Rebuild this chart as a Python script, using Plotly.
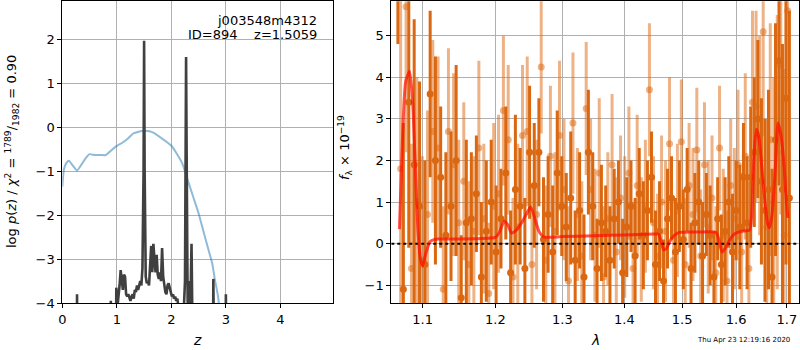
import numpy as np
import plotly.graph_objects as go

# ---------------- Left panel: redshift PDF ----------------
pz_z = [0.0, 0.03, 0.07, 0.12, 0.18, 0.27, 0.35, 0.43, 0.5, 0.6, 0.7, 0.8, 0.9, 1.0, 1.1,
        1.2, 1.3, 1.4, 1.5, 1.6, 1.7, 1.8, 1.9, 2.0, 2.1, 2.2, 2.3, 2.4, 2.5, 2.6, 2.7,
        2.75, 2.8, 2.85, 2.9]
pz_logp = [-1.35, -0.95, -0.82, -0.76, -0.85, -0.98, -0.85, -0.7, -0.61, -0.63, -0.63, -0.63,
           -0.52, -0.42, -0.35, -0.26, -0.14, -0.1, -0.08, -0.09, -0.14, -0.23, -0.32, -0.42,
           -0.6, -0.82, -1.2, -1.58, -1.96, -2.42, -2.87, -3.1, -3.48, -3.8, -4.3]

chi_z = [0.0, 0.26, 0.27, 0.28, 0.88, 0.89, 0.90, 0.98, 0.99, 1.0, 1.01, 1.03, 1.05, 1.07, 1.09,
         1.11, 1.13, 1.15, 1.17, 1.19, 1.21, 1.23, 1.25, 1.27, 1.29, 1.31, 1.33, 1.35, 1.37,
         1.39, 1.41, 1.43, 1.45, 1.47, 1.49, 1.5, 1.51, 1.53, 1.55, 1.57, 1.59, 1.61, 1.63,
         1.65, 1.67, 1.69, 1.71, 1.73, 1.75, 1.77, 1.79, 1.81, 1.83, 1.85, 1.87, 1.89, 1.91,
         1.93, 1.95, 1.97, 1.99, 2.01, 2.03, 2.05, 2.07, 2.09, 2.11, 2.13, 2.15, 2.17, 2.2,
         2.25, 2.26, 2.27, 2.28, 2.3, 2.32, 2.33, 2.34, 2.35, 2.36, 2.37, 2.38, 2.39, 2.4,
         2.76, 2.77, 2.78, 2.79, 2.99, 3.0, 3.01, 3.2]
chi_logp = [-6, -6, -3.8, -6, -6, -3.95, -6, -6, -3.65, -3.9, -4.1, -3.9, -3.6, -3.25, -3.55,
            -3.7, -3.35, -3.4, -3.8, -3.85, -3.8, -3.9, -3.95, -3.85, -3.8, -3.9, -3.7, -3.75,
            -3.6, -3.7, -3.55, -3.5, -3.6, -3.2, -1.0, 1.97, -1.0, -3.4, -3.55, -3.5, -3.6,
            -3.1, -2.7, -3.3, -2.65, -3.0, -3.3, -2.9, -3.35, -3.45, -3.3, -3.5, -2.75, -3.4,
            -3.6, -3.75, -3.8, -3.6, -3.55, -3.7, -3.75, -3.85, -3.8, -3.9, -3.85, -3.95, -3.9,
            -4.1, -4.5, -5, -5, -3.5, 0.5, 1.6, -0.5, -4.2, -3.5, -4.1, -3.7, -4.2, -3.3, -2.65,
            -3.8, -5, -6, -6, -3.45, -3.5, -6, -6, -3.8, -6, -6]

z_ticks = [0, 1, 2, 3, 4]
logp_ticks = [-4, -3, -2, -1, 0, 1, 2]

# ---------------- Right panel: spectrum ----------------
wave_a = [1.068, 1.075, 1.082, 1.089, 1.096, 1.103, 1.110, 1.117, 1.124, 1.131,
          1.138, 1.145, 1.152, 1.159, 1.166, 1.173, 1.180, 1.187, 1.194, 1.201,
          1.208, 1.215, 1.222, 1.229, 1.236, 1.243, 1.250, 1.257, 1.264, 1.271,
          1.278, 1.285, 1.292, 1.299, 1.306, 1.313, 1.320, 1.327, 1.334, 1.341,
          1.348, 1.355, 1.362, 1.369, 1.376, 1.383, 1.390, 1.397, 1.404, 1.411,
          1.418, 1.425, 1.432, 1.439, 1.446, 1.453, 1.460, 1.467, 1.474, 1.481,
          1.488, 1.495, 1.502, 1.509, 1.516, 1.523, 1.530, 1.537, 1.544, 1.551,
          1.558, 1.565, 1.572, 1.579, 1.586, 1.593, 1.600, 1.607, 1.614, 1.621,
          1.628, 1.635, 1.642, 1.649, 1.656, 1.663, 1.670, 1.677, 1.684, 1.691,
          1.698, 1.705]
flux_a = [7.0, -1.1, 3.4, 1.9, 0.9, -0.5, 3.6, 2.0, 1.6, 0.2,
          0.9, 2.0, -1.3, 0.5, 0.6, 1.2, -0.8, 0.3, 1.0, -0.2,
          0.6, 1.7, -0.7, 1.3, 0.9, -0.6, 2.2, 1.4, 2.2, 0.1,
          0.7, -0.2, 1.7, 0.9, 0.4, 1.1, -0.4, 0.8, -0.8, 2.2,
          0.9, -0.6, 0.5, 0.3, -0.4, 0.6, 1.0, -0.7, 0.4, 0.9,
          -0.3, 1.2, 0.2, 0.8, 1.6, -0.5, 0.3, -0.9, 0.6, 1.1,
          -0.2, 0.9, 0.1, 1.3, -0.6, 0.5, 1.0, -0.3, 0.7, 0.2,
          -0.8, 0.6, -0.5, 0.3, 1.0, -0.2, 0.8, 0.4, 1.6, 0.5,
          1.6, 2.2, 3.0, 1.5, 0.8, 1.3, -0.8, 2.5, 4.4, 1.3,
          3.5, 1.1]
err_a = [2.2, 4.0, 3.5, 3.5, 3.0, 2.5, 2.0, 2.5, 1.7, 2.0,
         1.8, 2.3, 1.5, 2.0, 1.6, 1.4, 1.8, 1.7, 1.5, 1.6,
         1.2, 1.6, 1.5, 1.8, 1.4, 1.7, 1.6, 1.5, 1.3, 1.5,
         1.4, 1.6, 1.5, 1.2, 1.3, 1.6, 1.2, 1.4, 1.5, 1.5,
         1.3, 1.2, 1.4, 1.1, 1.3, 1.2, 1.0, 1.3, 1.2, 1.1,
         1.4, 1.1, 1.3, 1.2, 1.1, 1.3, 1.2, 1.0, 1.2, 1.0,
         1.3, 1.1, 1.2, 1.0, 1.1, 1.2, 1.0, 1.3, 1.0, 1.2,
         1.1, 1.0, 1.2, 1.3, 1.1, 1.4, 1.2, 1.5, 1.3, 1.6,
         1.7, 1.8, 1.9, 2.0, 2.2, 2.4, 2.6, 2.8, 3.0, 3.5,
         4.0, 4.5]

wave_b = [1.0715, 1.0785, 1.0855, 1.0925, 1.0995, 1.1065, 1.1135, 1.1205, 1.1275, 1.1345,
          1.1415, 1.1485, 1.1555, 1.1625, 1.1695, 1.1765, 1.1835, 1.1905, 1.1975, 1.2045,
          1.2115, 1.2185, 1.2255, 1.2325, 1.2395, 1.2465, 1.2535, 1.2605, 1.2675, 1.2745,
          1.2815, 1.2885, 1.2955, 1.3025, 1.3095, 1.3165, 1.3235, 1.3305, 1.3375, 1.3445,
          1.3515, 1.3585, 1.3655, 1.3725, 1.3795, 1.3865, 1.3935, 1.4005, 1.4075, 1.4145,
          1.4215, 1.4285, 1.4355, 1.4425, 1.4495, 1.4565, 1.4635, 1.4705, 1.4775, 1.4845,
          1.4915, 1.4985, 1.5055, 1.5125, 1.5195, 1.5265, 1.5335, 1.5405, 1.5475, 1.5545,
          1.5615, 1.5685, 1.5755, 1.5825, 1.5895, 1.5965, 1.6035, 1.6105, 1.6175, 1.6245,
          1.6315, 1.6385, 1.6455, 1.6525, 1.6595, 1.6665, 1.6735, 1.6805, 1.6875, 1.6945,
          1.7015]
flux_b = [1.8, 5.7, -0.6, 1.0, -0.4, 0.7, 2.7, 2.3, -1.1, 2.7,
          1.9, 0.5, 1.5, -0.5, 0.3, 2.3, 0.6, -1.2, 0.9, 1.2,
          3.2, 2.5, -0.8, 0.4, 2.6, 2.7, -0.5, 0.7, 4.25, -0.4,
          2.1, 0.3, 2.6, 1.3, -0.9, 2.9, 0.7, -0.3, 3.25, 1.3,
          0.2, 1.7, -0.8, 0.6, 1.9, -0.2, 1.1, 0.4, 1.7, -0.6,
          1.4, 0.1, 0.9, 3.7, 0.5, -0.3, 1.0, 0.3, 2.4, -0.4,
          0.8, 2.45, -0.5, 1.4, 0.7, 2.25, -0.3, 1.9, 0.4, 1.1,
          -0.7, 2.3, 0.2, -0.9, 1.4, 0.6, 1.9, -0.2, 2.1, -0.6,
          3.4, 3.3, 2.6, 5.1, 0.4, 2.5, 1.0, 2.2, 4.3, 0.2,
          5.6]
err_b = [4.5, 3.5, 3.0, 3.0, 2.5, 2.5, 2.2, 2.2, 2.0, 2.0,
         2.2, 2.0, 1.9, 2.0, 1.8, 2.1, 1.8, 1.7, 2.0, 1.9,
         1.8, 1.8, 1.9, 2.0, 1.7, 1.8, 1.9, 1.8, 1.6, 1.8,
         1.7, 1.9, 1.8, 1.7, 1.8, 1.7, 1.6, 1.8, 1.6, 1.7,
         1.6, 1.8, 1.7, 1.6, 1.7, 1.8, 1.5, 1.7, 1.6, 1.6,
         1.7, 1.5, 1.6, 1.6, 1.6, 1.5, 1.6, 1.7, 1.6, 1.5,
         1.6, 1.5, 1.6, 1.5, 1.6, 1.5, 1.6, 1.5, 1.6, 1.5,
         1.6, 1.5, 1.6, 1.7, 1.6, 1.7, 1.8, 1.9, 2.0, 2.1,
         2.2, 2.3, 2.4, 2.5, 2.6, 2.8, 3.0, 3.3, 3.6, 4.0,
         4.5]

model_wave = [1.070, 1.074, 1.078, 1.083, 1.087, 1.091, 1.094, 1.097, 1.100, 1.104, 1.110,
              1.116, 1.121, 1.200, 1.205, 1.210, 1.213, 1.218, 1.223, 1.230, 1.238, 1.245,
              1.2515, 1.258, 1.264, 1.271, 1.300, 1.350, 1.400, 1.450, 1.458, 1.463, 1.467,
              1.472, 1.478, 1.486, 1.495, 1.530, 1.562, 1.567, 1.573, 1.579, 1.586, 1.594,
              1.602, 1.612, 1.626, 1.630, 1.634, 1.639, 1.644, 1.650, 1.656, 1.661, 1.665,
              1.670, 1.676, 1.682, 1.688, 1.694, 1.699, 1.702]
model_flux = [0.35, 2.6, 3.9, 4.15, 3.4, 1.6, 0.3, -0.35, -0.54, -0.25, 0.05,
              0.1, 0.11, 0.15, 0.25, 0.45, 0.54, 0.45, 0.26, 0.32, 0.5, 0.7,
              0.88, 0.6, 0.3, 0.16, 0.17, 0.19, 0.21, 0.23, 0.23, 0.05, -0.15,
              -0.12, 0.05, 0.2, 0.27, 0.28, 0.27, 0.1, -0.2, -0.12, 0.05, 0.2,
              0.27, 0.3, 0.33, 0.7, 2.0, 2.75, 2.55, 1.8, 1.0, 0.5, 0.38,
              0.7, 1.7, 2.9, 2.6, 1.9, 1.0, 0.62]

wave_ticks = [1.1, 1.2, 1.3, 1.4, 1.5, 1.6, 1.7]
flux_ticks = [-1, 0, 1, 2, 3, 4, 5]

dark = "rgb(219,104,16)"
light = "rgba(219,104,16,0.5)"
font = "DejaVu Sans, sans-serif"

fig = go.Figure()

fig.add_trace(go.Scatter(x=pz_z, y=pz_logp, mode="lines",
                         line=dict(color="rgba(31,119,180,0.5)", width=2, shape="spline", smoothing=0.5),
                         xaxis="x", yaxis="y", showlegend=False, hoverinfo="skip"))
fig.add_trace(go.Scatter(x=chi_z, y=chi_logp, mode="lines", line=dict(color="#404040", width=2.6),
                         xaxis="x", yaxis="y", showlegend=False, hoverinfo="skip"))

fig.add_trace(go.Scatter(x=wave_b, y=flux_b, mode="markers",
                         marker=dict(color=light, size=7),
                         error_y=dict(type="data", array=err_b, color=light, thickness=3, width=0),
                         xaxis="x2", yaxis="y2", showlegend=False, cliponaxis=True))
fig.add_trace(go.Scatter(x=wave_a, y=flux_a, mode="markers",
                         marker=dict(color=dark, size=7),
                         error_y=dict(type="data", array=err_a, color=dark, thickness=3, width=0),
                         xaxis="x2", yaxis="y2", showlegend=False, cliponaxis=True))
fig.add_trace(go.Scatter(x=[1.0596, 1.7253], y=[0, 0], mode="lines",
                         line=dict(color="black", width=2, dash="dot"),
                         xaxis="x2", yaxis="y2", showlegend=False))
fig.add_trace(go.Scatter(x=model_wave, y=model_flux, mode="lines",
                         line=dict(color="rgba(255,10,0,0.7)", width=3, shape="spline", smoothing=0.6),
                         xaxis="x2", yaxis="y2", showlegend=False))

axis_common = dict(showline=True, linecolor="black", linewidth=1, mirror=True, ticks="outside",
                   ticklen=4, tickcolor="black", showgrid=True, gridcolor="#b0b0b0", gridwidth=1,
                   zeroline=False, automargin=False,
                   tickfont=dict(family=font, size=13, color="black"))

fig.update_layout(
    template="none",
    width=800, height=350, margin=dict(l=0, r=0, t=0, b=0, pad=0),
    paper_bgcolor="white", plot_bgcolor="white",
    font=dict(family=font, size=13, color="black"),
    xaxis=dict(domain=[0.0779, 0.4166], range=[0, 4.97], tickvals=z_ticks, anchor="y", **axis_common),
    yaxis=dict(domain=[0.1329, 0.9963], range=[-4.01, 2.87], tickvals=logp_ticks, anchor="x", **axis_common),
    xaxis2=dict(domain=[0.4891, 0.9991], type="log", range=[np.log10(1.0596), np.log10(1.7253)],
                tickvals=wave_ticks, ticktext=[str(v) for v in wave_ticks], anchor="y2", **axis_common),
    yaxis2=dict(domain=[0.1329, 0.9963], range=[-1.44, 5.83], tickvals=flux_ticks, anchor="x2", **axis_common),
    annotations=[
        dict(text="j003548m4312", x=319/800, y=1-20/350, xref="paper", yref="paper", xanchor="right",
             yanchor="middle", showarrow=False, font=dict(size=13, family=font)),
        dict(text="ID=894    z=1.5059", x=319/800, y=1-35/350, xref="paper", yref="paper", xanchor="right",
             yanchor="middle", showarrow=False, font=dict(size=13, family=font)),
        dict(text="<i>z</i>", x=197/800, y=1-340/350, xref="paper", yref="paper", showarrow=False,
             xanchor="center", yanchor="middle", font=dict(size=14, family=font)),
        dict(text="<i>λ</i>", x=595/800, y=1-340/350, xref="paper", yref="paper", showarrow=False,
             xanchor="center", yanchor="middle", font=dict(size=14, family=font)),
        dict(text="log <i>p</i>(<i>z</i>) / <i>χ</i><sup>2</sup> = <sup>1789</sup>/<sub>1982</sub> = 0.90",
             x=12/800, y=1-152/350, xref="paper", yref="paper", showarrow=False, textangle=-90,
             xanchor="center", yanchor="middle", font=dict(size=13, family=font)),
        dict(text="<i>f</i><sub>λ</sub> × 10<sup>−19</sup>",
             x=345/800, y=1-148/350, xref="paper", yref="paper", showarrow=False, textangle=-90,
             xanchor="center", yanchor="middle", font=dict(size=13, family=font)),
        dict(text="Thu Apr 23 12:19:16 2020", x=743/800, y=1-340/350, xref="paper", yref="paper",
             showarrow=False, xanchor="center", yanchor="middle", font=dict(size=7, family=font)),
    ],
)

fig.write_html("out.html", config={"displayModeBar": False},
               post_script="document.body.style.margin='0px';document.body.style.padding='0px';"
                           "document.body.style.overflow='hidden';")
